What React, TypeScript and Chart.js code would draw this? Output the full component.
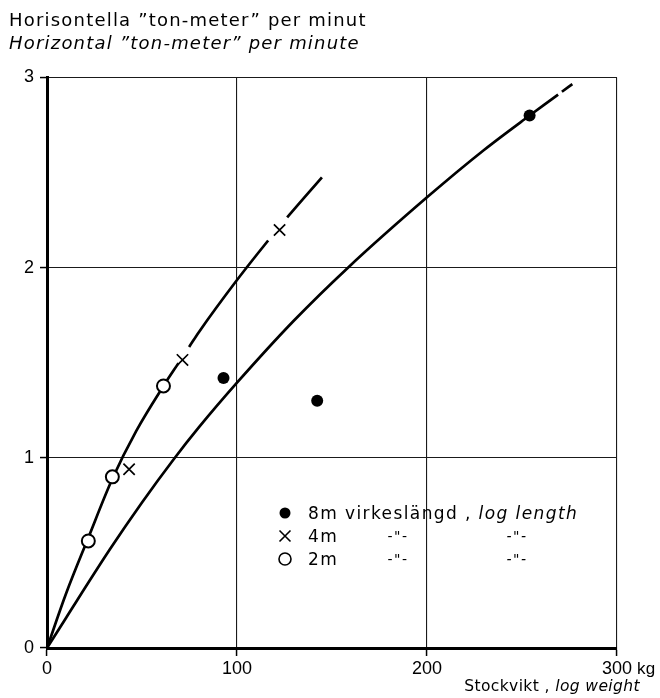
import React, { useEffect, useRef } from 'react';
import { Chart, registerables } from 'chart.js';

Chart.register(...registerables);

// Axis ticks
const xTicks = [0, 100, 200, 300];
const yTicks = [0, 1, 2, 3];

// Observed rates by log length (weight in kg, horizontal ton-metres per minute)
const logs8mWeight = [92.9, 142.2, 254.0];
const logs8mRate = [1.42, 1.3, 2.8];
const logs4mWeight = [43.2, 71.3, 122.4];
const logs4mRate = [0.94, 1.515, 2.198];
const logs2mWeight = [21.75, 34.4, 61.3];
const logs2mRate = [0.563, 0.9, 1.378];

// Freehand curve through the short-log observations (2 m and 4 m)
const shortCurveWeight = [0, 10, 21.75, 34.4, 47, 61.3, 69.2, 74.8, 80, 100, 116.4, 126.4, 144.7];
const shortCurveRate = [0, 0.285, 0.58, 0.89, 1.142, 1.378, 1.498, 1.583, 1.662, 1.935, 2.143, 2.264, 2.475];
const shortCurveBreaks = [69.2, 116.4];

// Freehand curve through the 8 m observations
const longCurveWeight = [0, 10, 33.2, 50, 66.5, 80, 100, 130, 158.4, 200, 230, 254, 269, 271, 276.5];
const longCurveRate = [0, 0.158, 0.52, 0.765, 0.99, 1.161, 1.395, 1.722, 2.0, 2.37, 2.619, 2.8, 2.91, 2.925, 2.965];
const longCurveBreaks = [269];

const TEXT_FONT = '"DejaVu Sans", "Liberation Sans", sans-serif';
const DIGIT_FONT = '"Liberation Sans", "DejaVu Sans", sans-serif';

const toPoints = (xs: number[], ys: number[]) => xs.map((x, i) => ({ x, y: ys[i] }));

type Run = { text: string; italic?: boolean };

function drawRuns(
  ctx: CanvasRenderingContext2D,
  runs: Run[],
  x: number,
  y: number,
  size: number,
  spacing: number,
  align: 'left' | 'right' | 'center' = 'left',
  family: string = TEXT_FONT
) {
  ctx.save();
  (ctx as any).letterSpacing = spacing + 'px';
  ctx.textAlign = 'left';
  ctx.textBaseline = 'alphabetic';
  ctx.fillStyle = '#000';
  const fontFor = (r: Run) => `${r.italic ? 'italic ' : ''}${size}px ${family}`;
  const widths = runs.map((r) => {
    ctx.font = fontFor(r);
    return ctx.measureText(r.text).width;
  });
  const total = widths.reduce((a, b) => a + b, 0);
  let cx = align === 'right' ? x - total : align === 'center' ? x - total / 2 : x;
  runs.forEach((r, i) => {
    ctx.font = fontFor(r);
    ctx.fillText(r.text, cx, y);
    cx += widths[i];
  });
  ctx.restore();
}

function drawSymbol(ctx: CanvasRenderingContext2D, kind: 'dot' | 'cross' | 'ring', x: number, y: number) {
  ctx.save();
  ctx.strokeStyle = '#000';
  ctx.fillStyle = '#000';
  if (kind === 'dot') {
    ctx.beginPath();
    ctx.arc(x, y, 5.5, 0, Math.PI * 2);
    ctx.fill();
  } else if (kind === 'ring') {
    ctx.lineWidth = 1.6;
    ctx.beginPath();
    ctx.arc(x, y, 6, 0, Math.PI * 2);
    ctx.stroke();
  } else {
    ctx.lineWidth = 1.6;
    const h = 5.5;
    ctx.beginPath();
    ctx.moveTo(x - h, y - h);
    ctx.lineTo(x + h, y + h);
    ctx.moveTo(x + h, y - h);
    ctx.lineTo(x - h, y + h);
    ctx.stroke();
  }
  ctx.restore();
}

const annotations = {
  id: 'annotations',
  afterDraw(chart: any) {
    const ctx: CanvasRenderingContext2D = chart.ctx;
    // Heading, Swedish then English
    drawRuns(ctx, [{ text: 'Horisontella ”ton-meter” per minut' }], 9, 26, 18, 1.2);
    drawRuns(ctx, [{ text: 'Horizontal ”ton-meter” per minute', italic: true }], 9, 49, 18, 1.2);

    // Key
    const keyX = 285;
    const textX = 308;
    const rows = [513, 536, 559];
    drawSymbol(ctx, 'dot', keyX, rows[0]);
    drawRuns(ctx, [{ text: '8m virkeslängd , ' }, { text: 'log length', italic: true }], textX, rows[0] + 6, 17, 1.4);
    drawSymbol(ctx, 'cross', keyX, rows[1]);
    drawRuns(ctx, [{ text: '4m' }], textX, rows[1] + 6, 17, 1.4);
    drawRuns(ctx, [{ text: '-"-' }], 398, rows[1] + 5, 14, 1.5, 'center');
    drawRuns(ctx, [{ text: '-"-', italic: true }], 517, rows[1] + 5, 14, 1.5, 'center');
    drawSymbol(ctx, 'ring', keyX, rows[2]);
    drawRuns(ctx, [{ text: '2m' }], textX, rows[2] + 6, 17, 1.4);
    drawRuns(ctx, [{ text: '-"-' }], 398, rows[2] + 5, 14, 1.5, 'center');
    drawRuns(ctx, [{ text: '-"-', italic: true }], 517, rows[2] + 5, 14, 1.5, 'center');

    // Unit after the last weight tick, and the x-axis title
    const xs = chart.scales.x;
    const px = xs.getPixelForValue(xTicks[xTicks.length - 1]);
    drawRuns(ctx, [{ text: 'kg' }], px + 20, 674, 17, 0.3, 'left', DIGIT_FONT);
    drawRuns(ctx, [{ text: 'Stockvikt , ' }, { text: 'log weight', italic: true }], 640, 691, 15.5, 0.4, 'right');
  },
};

export default function App() {
  const canvasRef = useRef<HTMLCanvasElement | null>(null);

  useEffect(() => {
    const canvas = canvasRef.current;
    if (!canvas) return;

    const segmentColor = (breaks: number[]) => (c: any) =>
      breaks.includes(c.p0.parsed.x) ? 'rgba(0,0,0,0)' : '#000';

    const chart = new Chart(canvas, {
      type: 'scatter',
      data: {
        datasets: [
          {
            label: '8m',
            data: toPoints(logs8mWeight, logs8mRate),
            pointStyle: 'circle',
            pointRadius: 6,
            pointBackgroundColor: '#000',
            pointBorderColor: '#000',
            pointBorderWidth: 0,
            showLine: false,
            order: 0,
          },
          {
            label: '4m',
            data: toPoints(logs4mWeight, logs4mRate),
            pointStyle: 'crossRot',
            pointRadius: 8,
            pointBorderColor: '#000',
            pointBorderWidth: 1.7,
            showLine: false,
            order: 0,
          },
          {
            label: '2m',
            data: toPoints(logs2mWeight, logs2mRate),
            pointStyle: 'circle',
            pointRadius: 6.5,
            pointBackgroundColor: '#fff',
            pointBorderColor: '#000',
            pointBorderWidth: 2,
            showLine: false,
            order: 0,
          },
          {
            label: 'short logs',
            data: toPoints(shortCurveWeight, shortCurveRate),
            showLine: true,
            borderColor: '#000',
            borderWidth: 2.7,
            pointRadius: 0,
            cubicInterpolationMode: 'monotone',
            borderCapStyle: 'butt',
            segment: { borderColor: segmentColor(shortCurveBreaks) },
            order: 1,
          },
          {
            label: 'long logs',
            data: toPoints(longCurveWeight, longCurveRate),
            showLine: true,
            borderColor: '#000',
            borderWidth: 2.7,
            pointRadius: 0,
            cubicInterpolationMode: 'monotone',
            borderCapStyle: 'butt',
            segment: { borderColor: segmentColor(longCurveBreaks) },
            order: 1,
          },
        ],
      },
      options: {
        animation: false,
        responsive: false,
        devicePixelRatio: 1,
        layout: { padding: { top: 77.5, right: 43, left: 0, bottom: 0 } },
        plugins: {
          legend: { display: false },
          tooltip: { enabled: false },
        },
        scales: {
          x: {
            type: 'linear',
            min: 0,
            max: 300,
            afterFit: (s: any) => {
              s.height = 50;
            },
            afterBuildTicks: (s: any) => {
              s.ticks = xTicks.map((v) => ({ value: v }));
            },
            ticks: {
              color: '#000',
              padding: 2,
              maxRotation: 0,
              font: { family: DIGIT_FONT, size: 18 },
              callback: (v: any) => String(v),
            },
            grid: {
              color: '#1a1a1a',
              lineWidth: 1.1,
              tickLength: 8,
              tickWidth: 1.5,
              tickColor: '#000',
            },
            border: { display: true, color: '#000', width: 3 },
          },
          y: {
            type: 'linear',
            min: 0,
            max: 3,
            afterFit: (s: any) => {
              s.width = 47;
            },
            afterBuildTicks: (s: any) => {
              s.ticks = yTicks.map((v) => ({ value: v }));
            },
            ticks: {
              color: '#000',
              padding: 6,
              font: { family: DIGIT_FONT, size: 18 },
              callback: (v: any) => String(v),
            },
            grid: {
              color: '#1a1a1a',
              lineWidth: 1.1,
              tickLength: 7,
              tickWidth: 1.5,
              tickColor: '#000',
            },
            border: { display: true, color: '#000', width: 3 },
          },
        },
      },
      plugins: [annotations],
    } as any);

    return () => chart.destroy();
  }, []);

  return (
    <div style={{ position: 'absolute', left: 0, top: 0, width: 660, height: 698, background: '#fff' }}>
      <canvas ref={canvasRef} width={660} height={698} style={{ display: 'block' }} />
    </div>
  );
}
